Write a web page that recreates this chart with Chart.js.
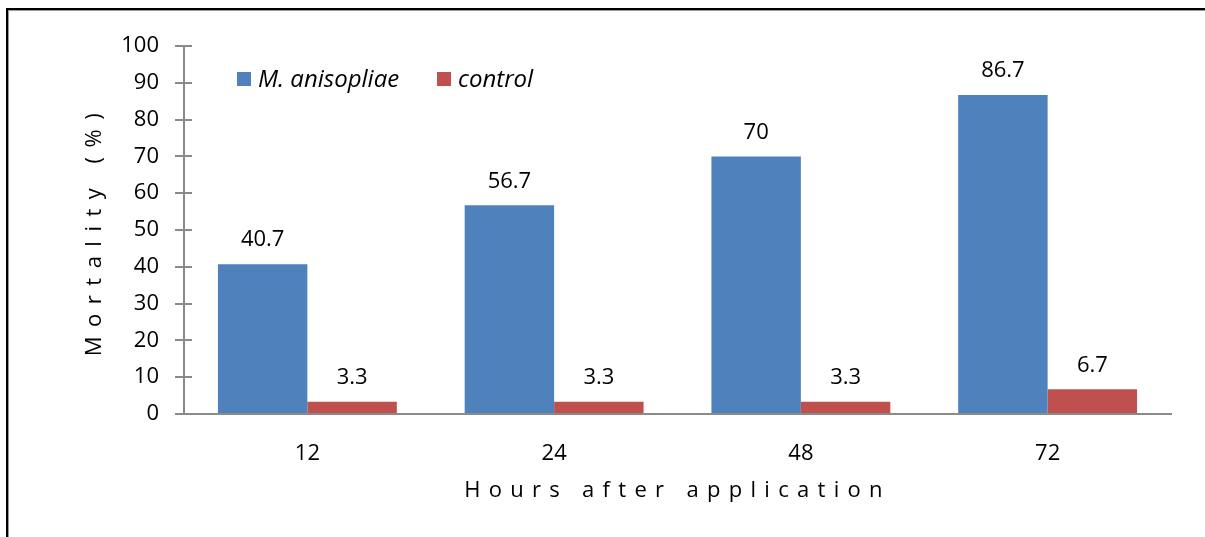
<!DOCTYPE html>
<html><head><meta charset="utf-8">
<script src="https://cdn.jsdelivr.net/npm/chart.js@4.4.1/dist/chart.umd.min.js"></script>
<style>html,body{margin:0;padding:0;background:#fff;overflow:hidden}#wrap{width:1205px;height:537px;position:relative}</style>
</head><body><div id="wrap"><canvas id="c"></canvas></div>
<script>
const categories = ['12', '24', '48', '72'];
const seriesNames = ['M. anisopliae', 'control'];
const anisopliaeValues = [40.7, 56.7, 70, 86.7];
const controlValues = [3.3, 3.3, 3.3, 6.7];
const yTickValues = [0, 10, 20, 30, 40, 50, 60, 70, 80, 90, 100];
const xTitle = 'Hours after application';
const yTitle = 'Mortality (%)';

const FONT = '"Open Sans", Lato, sans-serif';
const AXIS = '#8a8a8a';

const framePlugin = {
  id: 'frame',
  beforeDraw(chart) {
    const c = chart.ctx;
    c.save();
    c.fillStyle = '#fff';
    c.fillRect(0, 0, chart.width, chart.height);
    c.fillStyle = '#000';
    c.fillRect(6, 8, chart.width, 2);
    c.fillRect(6, 8, 2, chart.height);
    c.fillStyle = '#9a9a9a';
    c.fillRect(8, 10, chart.width, 1);
    c.fillRect(8, 10, 1, chart.height);
    c.restore();
    // spaced-out axis titles (letter spacing)
    const spacing = { x: '8.3px', y: '9.5px' };
    Object.keys(spacing).forEach(k => {
      const s = chart.scales[k];
      if (s && !s._spacedTitle) {
        const orig = s.drawTitle;
        s.drawTitle = function () {
          const ctx = this.ctx;
          ctx.save();
          ctx.letterSpacing = spacing[k];
          orig.apply(this, arguments);
          ctx.restore();
        };
        s._spacedTitle = true;
      }
    });
  }
};

const innerTicksPlugin = {
  id: 'innerTicks',
  afterDraw(chart) {
    const s = chart.scales.y, c = chart.ctx;
    c.save();
    c.strokeStyle = AXIS; c.lineWidth = 2;
    s.ticks.forEach((t, i) => {
      const y = Math.round(s.getPixelForTick(i));
      c.beginPath(); c.moveTo(s.right, y); c.lineTo(s.right + 8, y); c.stroke();
    });
    c.restore();
  }
};

const valueLabelsPlugin = {
  id: 'valueLabels',
  afterDatasetsDraw(chart) {
    const c = chart.ctx;
    c.save();
    c.font = '22px ' + FONT;
    c.fillStyle = '#000';
    c.textAlign = 'center';
    c.textBaseline = 'middle';
    chart.data.datasets.forEach((ds, di) => {
      chart.getDatasetMeta(di).data.forEach((el, i) => {
        c.fillText(String(ds.data[i]), el.x, el.y - 24);
      });
    });
    c.restore();
  }
};

const legendPlugin = {
  id: 'customLegend',
  afterDraw(chart) {
    const c = chart.ctx, a = chart.chartArea;
    c.save();
    c.font = 'italic 24px ' + FONT;
    c.textBaseline = 'middle';
    const y = 79;
    const starts = [a.left + 53, a.left + 253];
    chart.data.datasets.forEach((ds, i) => {
      const x = starts[i];
      c.fillStyle = ds.backgroundColor;
      c.fillRect(x, y - 7, 14, 14);
      c.fillStyle = '#000';
      c.textAlign = 'left';
      c.fillText(ds.label, x + 21, y + 1);
    });
    c.restore();
  }
};

new Chart(document.getElementById('c'), {
  type: 'bar',
  data: {
    labels: categories,
    datasets: [
      { label: seriesNames[0], data: anisopliaeValues, backgroundColor: '#4F81BD' },
      { label: seriesNames[1], data: controlValues, backgroundColor: '#C0504D' }
    ]
  },
  options: {
    responsive: true,
    maintainAspectRatio: false,
    animation: false,
    events: [],
    layout: { padding: { left: 0, top: 46, right: 34, bottom: 0 } },
    datasets: { bar: { categoryPercentage: 0.725, barPercentage: 1.0 } },
    plugins: { legend: { display: false }, tooltip: { enabled: false } },
    scales: {
      x: {
        grid: { display: false, drawTicks: false },
        border: { display: true, color: AXIS, width: 2 },
        ticks: { color: '#000', font: { family: FONT, size: 22 }, padding: 27 },
        title: { display: true, text: xTitle, color: '#000', font: { family: FONT, size: 22 }, padding: { top: 0, bottom: 33 } },
        afterFit(s) { s.height = 123; }
      },
      y: {
        min: 0, max: 100,
        afterBuildTicks(s) { s.ticks = yTickValues.map(v => ({ value: v })); },
        grid: { drawOnChartArea: false, drawTicks: true, tickLength: 9, color: AXIS, lineWidth: 2 },
        border: { display: true, color: AXIS, width: 2 },
        ticks: { color: '#000', font: { family: FONT, size: 22 }, padding: 16 },
        title: { display: true, text: yTitle, color: '#000', font: { family: FONT, size: 22 }, padding: { top: 82, bottom: 0 } },
        afterFit(s) { s.width = 184; }
      }
    }
  },
  plugins: [framePlugin, innerTicksPlugin, valueLabelsPlugin, legendPlugin]
});
</script></body></html>
